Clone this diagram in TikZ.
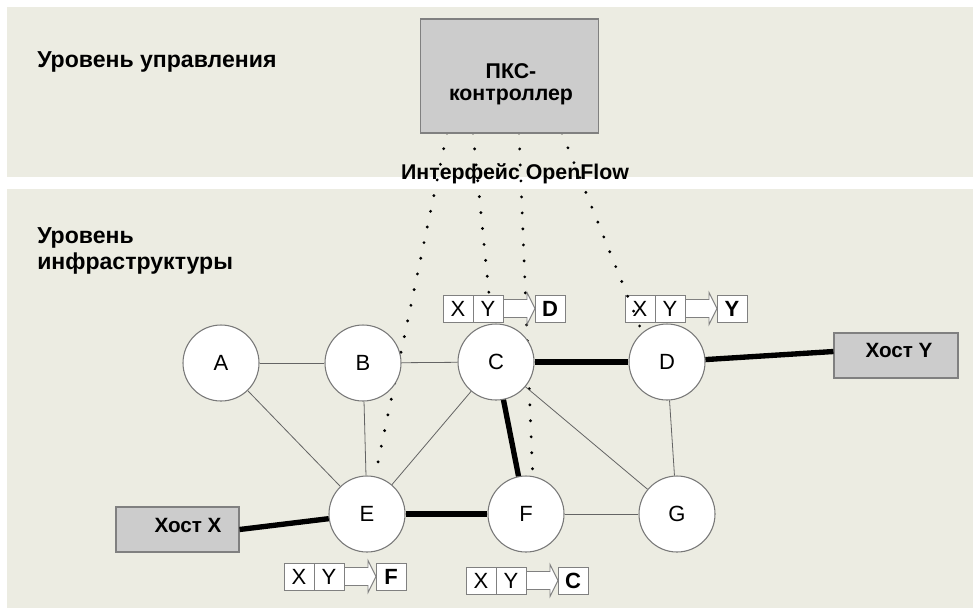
\documentclass[tikz,border=0pt]{standalone}
\usepackage{fontspec}
\setmainfont{Liberation Sans}
\definecolor{bgc}{RGB}{236,236,226}
\definecolor{boxgray}{RGB}{204,204,204}
\definecolor{bgray}{RGB}{128,128,128}
\definecolor{cgray}{RGB}{120,120,120}
\definecolor{lgray}{RGB}{100,100,100}
\pgfdeclarelayer{background}
\pgfsetlayers{background,main}
\newcommand\ftab[4]{%
  \draw[farrow] (#2+60,#3-9) -- (#2+84,#3-9) -- (#2+84,#3-16) -- (#2+92,#3) -- (#2+84,#3+16) -- (#2+84,#3+9) -- (#2+60,#3+9) -- cycle;
  \node[cell] (#1x) at (#2+15,#3) {X};
  \node[cell] (#1y) at (#2+45,#3) {Y};
  \node[cell,font=\bfseries\fontsize{16.5}{18}\selectfont] (#1d) at (#2+107,#3) {#4};
}
\begin{document}
\begin{tikzpicture}[x=0.75pt,y=-0.75pt,
  sw/.style={circle,draw=cgray,fill=white,line width=0.8pt,minimum size=57pt,inner sep=0pt,font=\fontsize{16.5}{18}\selectfont},
  hostbox/.style={rectangle,draw=bgray,fill=boxgray,line width=0.8pt,inner sep=0pt},
  thinedge/.style={draw=lgray,line width=0.6pt},
  thickedge/.style={draw=black,line width=4pt},
  ctrlline/.style={draw=black,line width=2.4pt,line cap=round,dash pattern=on 0pt off 12pt},
  cell/.style={rectangle,draw=bgray,fill=white,line width=0.7pt,minimum width=22.5pt,minimum height=20.25pt,inner sep=0pt,font=\fontsize{16.5}{18}\selectfont},
  farrow/.style={draw=bgray,fill=white,line width=0.7pt},
  lbl/.style={font=\bfseries\fontsize{17.3}{19}\selectfont,inner sep=0pt},
  hostlbl/.style={font=\bfseries\fontsize{15.5}{17}\selectfont,inner sep=0pt}
]
\useasboundingbox (0,0) rectangle (973,608);
\begin{pgfonlayer}{background}
\fill[white] (0,0) rectangle (973,608);
\fill[bgc] (7,7) rectangle (973,177);
\fill[bgc] (7,189) rectangle (973,608);
\end{pgfonlayer}

% layer labels
\node[lbl,anchor=base west] (lup) at (37,67) {Уровень управления};
\node[lbl,anchor=base west] (linfa) at (37,243) {Уровень};
\node[lbl,anchor=base west] (linfb) at (37,269) {инфраструктуры};

% controller
\node[hostbox,minimum width=133.5pt,minimum height=85.5pt] (ctrl) at (509.5,76) {};
\node[lbl,align=center,font=\bfseries\fontsize{16}{16.5}\selectfont] (ctrltxt) at (511,84) {ПКС-\\контроллер};
\node[lbl,anchor=base,font=\bfseries\fontsize{16}{19}\selectfont] (ofl) at (515,179) {Интерфейс OpenFlow};

% switches
\node[sw] (A) at (221,363) {A};
\node[sw] (B) at (363,363) {B};
\node[sw] (C) at (496,362) {C};
\node[sw] (D) at (667,362) {D};
\node[sw] (E) at (367,514) {E};
\node[sw] (F) at (526,514) {F};
\node[sw] (G) at (677,514) {G};

% hosts
\node[hostbox,minimum width=92.25pt,minimum height=33.75pt] (hx) at (177.5,529.5) {};
\node[hostlbl] (hxt) at (188,525) {Хост X};
\node[hostbox,minimum width=93pt,minimum height=33.75pt] (hy) at (896,355.5) {};
\node[hostlbl] (hyt) at (899,350) {Хост Y};

% edges
\draw[thinedge] (A) -- (B);
\draw[thinedge] (B) -- (C);
\draw[thinedge] (A) -- (E);
\draw[thinedge] (B) -- (E);
\draw[thinedge] (C) -- (E);
\draw[thinedge] (C) -- (G);
\draw[thinedge] (D) -- (G);
\draw[thinedge] (F) -- (G);
\draw[thickedge] (C) -- (D);
\draw[thickedge] (C) -- (F);
\draw[thickedge] (E) -- (F);
\draw[thickedge] (hx.east) -- (E);
\draw[thickedge] (D) -- ([yshift=3pt]hy.west);

% OpenFlow control lines (behind switches and tables)
\coordinate (o1) at (447,133);
\coordinate (o2) at (473,133);
\coordinate (o3) at (519,133);
\coordinate (o4) at (562,133);
\begin{pgfonlayer}{background}
\ftab{td}{625}{308.5}{Y}
\draw[ctrlline] (o1) -- (E.78);
\draw[ctrlline] (o2) -- (C.96);
\draw[ctrlline] (o3) -- (F.80);
\draw[ctrlline] (o4) -- (D.130);
\end{pgfonlayer}

% flow tables
\ftab{tc}{443}{308.5}{D}
\ftab{te}{284}{576.5}{F}
\ftab{tf}{466}{580.5}{C}
\end{tikzpicture}
\end{document}
